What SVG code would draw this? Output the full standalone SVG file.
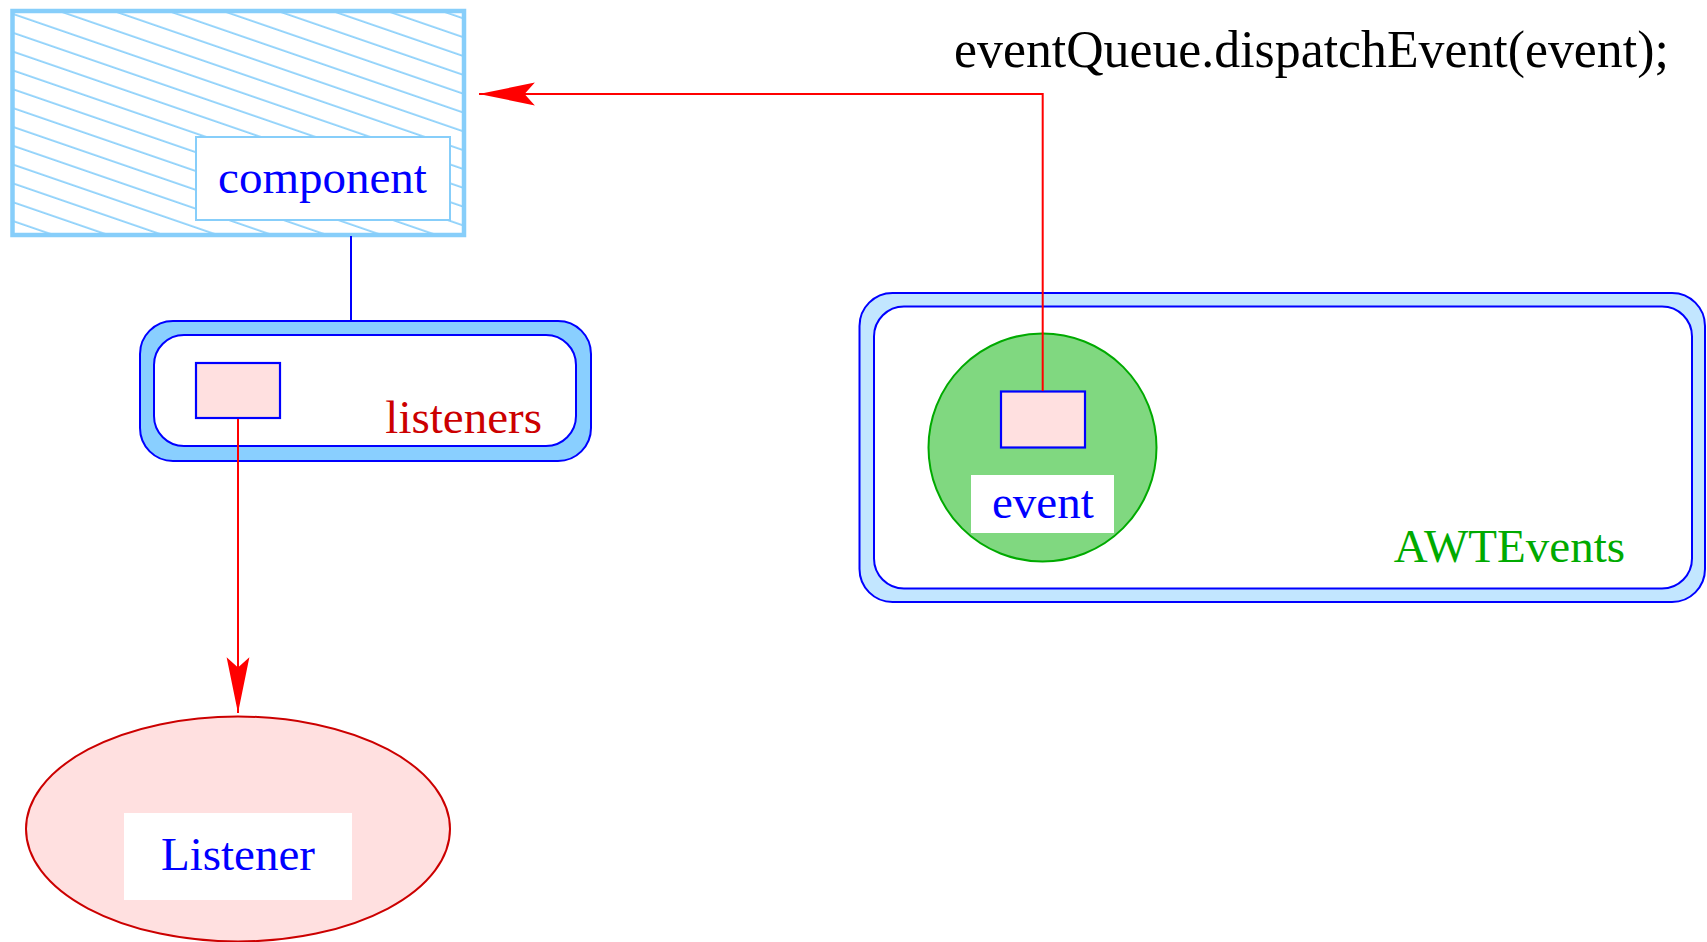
<svg xmlns="http://www.w3.org/2000/svg" width="1707" height="942" viewBox="0 0 1707 942">
  <style>
    .lbl { font-family: "Liberation Serif", "Times New Roman", serif; font-size: 47px; }
    .blue { fill: #0000FF; }
    .code { font-family: "Liberation Serif", "Times New Roman", serif; font-size: 51.8px; fill: #000000; }
    .wire { fill: none; stroke: #FF0000; stroke-width: 2; }
    .slot { fill: #FFE0E0; stroke: #0000FF; stroke-width: 2.2; }
    .tag { fill: #FFFFFF; stroke: none; }
  </style>
  <defs>
    <pattern id="hatch" patternUnits="userSpaceOnUse" width="12" height="17.8" patternTransform="rotate(19)">
      <line x1="-2" y1="9" x2="14" y2="9" stroke="#87CEFA" stroke-width="1.7"/>
    </pattern>
    <marker id="arrowhead" markerUnits="userSpaceOnUse" markerWidth="60" markerHeight="30" viewBox="-56 -13 58 26" refX="0" refY="0" orient="auto">
      <path d="M0,0 L-54,-11 L-44,0 L-54,11 Z" fill="#FF0000"/>
    </marker>
  </defs>

  <rect width="1707" height="942" fill="#FFFFFF"/>

  <!-- hatched component box -->
  <g id="component">
    <rect x="12.5" y="11" width="451.5" height="224" fill="url(#hatch)" stroke="#87CEFA" stroke-width="4.5"/>
    <rect x="196" y="137" width="254" height="83" fill="#FFFFFF" stroke="#87CEFA" stroke-width="2"/>
    <text class="lbl blue" x="322.5" y="193" text-anchor="middle">component</text>
  </g>

  <!-- listener list -->
  <g id="listeners">
    <rect x="140" y="321" width="451" height="140" rx="33" ry="33" fill="#89CFFF" stroke="#0000FF" stroke-width="2"/>
    <rect x="154" y="335" width="422" height="111" rx="30" ry="30" fill="#FFFFFF" stroke="#0000FF" stroke-width="2"/>
    <rect class="slot" x="196" y="363" width="84" height="55"/>
    <text class="lbl" x="542" y="433" text-anchor="end" fill="#CC0000">listeners</text>
  </g>

  <!-- event queue -->
  <g id="awtevents">
    <rect x="859.5" y="293" width="845.5" height="309" rx="33" ry="33" fill="#C2E6FF" stroke="#0000FF" stroke-width="2"/>
    <rect x="874" y="306.5" width="818" height="282" rx="30" ry="30" fill="#FFFFFF" stroke="#0000FF" stroke-width="2"/>
    <text class="lbl" x="1625" y="561.5" text-anchor="end" fill="#00AA00">AWTEvents</text>
  </g>

  <g id="event">
    <circle cx="1042.5" cy="447.5" r="114" fill="#80D880" stroke="#00AA00" stroke-width="2"/>
    <rect class="tag" x="971" y="475" width="143" height="58"/>
    <text class="lbl blue" x="1042.8" y="518" text-anchor="middle">event</text>
    <rect class="slot" x="1001" y="391.5" width="84" height="56"/>
  </g>

  <!-- listener object -->
  <g id="listener">
    <ellipse cx="238" cy="829" rx="212" ry="112.5" fill="#FFE0E0" stroke="#CC0000" stroke-width="2"/>
    <rect class="tag" x="124" y="813" width="228" height="87"/>
    <text class="lbl blue" x="238" y="870" text-anchor="middle">Listener</text>
  </g>

  <g id="dispatch-call">
    <text class="code" x="954" y="67">eventQueue.dispatchEvent(event);</text>
  </g>

  <!-- connectors, drawn over the boxes they cross -->
  <g id="connectors">
    <line x1="351" y1="236" x2="351" y2="321" stroke="#0000FF" stroke-width="2"/>
    <path class="wire" d="M238,419 L238,713" marker-end="url(#arrowhead)"/>
    <path class="wire" d="M1042.7,391 L1042.7,94 L479,94" marker-end="url(#arrowhead)"/>
  </g>
</svg>
